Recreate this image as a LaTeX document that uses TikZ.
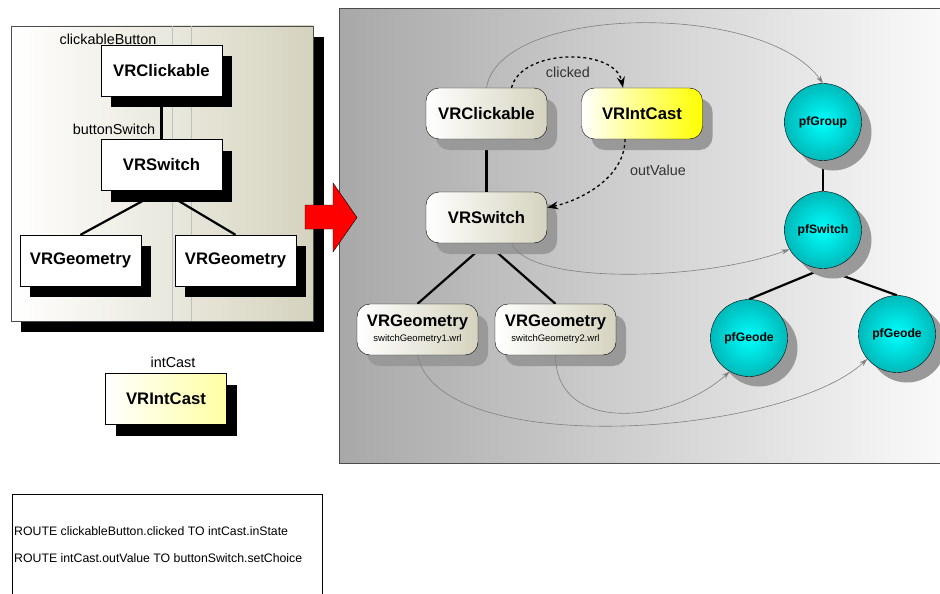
\documentclass[tikz,border=0pt]{standalone}
\usepackage{fontspec}
\setmainfont{Liberation Sans}
\usepackage{tikz}
\usetikzlibrary{shadows,arrows.meta,positioning}
\pgfdeclarelayer{panel}
\pgfdeclarelayer{links}
\pgfsetlayers{panel,links,main}
\definecolor{khaki}{RGB}{213,211,190}
\definecolor{paleyellow}{RGB}{255,255,165}
\definecolor{cyanhi}{RGB}{0,255,255}
\definecolor{cyanlo}{RGB}{0,185,185}
\definecolor{panelgrey}{RGB}{168,168,168}
\definecolor{panelwhite}{RGB}{250,250,250}

\begin{document}
\begin{tikzpicture}[x=1pt, y=-1pt,
  oldbox/.style={draw, thin, fill=white, minimum width=121pt, minimum height=51pt, inner sep=0pt,
    font=\fontsize{16.7}{18}\selectfont\bfseries,
    drop shadow={shadow xshift=10pt, shadow yshift=-11pt, fill=black, opacity=1}},
  newbox/.style={draw, thin, rounded corners=13pt, left color=white, right color=khaki,
    minimum width=121pt, minimum height=51pt, inner sep=0pt, align=center,
    font=\fontsize{16.7}{18}\selectfont\bfseries,
    drop shadow={shadow xshift=10pt, shadow yshift=-11pt, fill=black!40, opacity=1}},
  pfball/.style={draw, thin, circle, minimum size=77pt, inner sep=0pt, shading=radial,
    inner color=cyanhi, outer color=cyanlo, font=\fontsize{12.2}{14}\selectfont\bfseries,
    drop shadow={shadow xshift=10pt, shadow yshift=-10pt, fill=black!40, opacity=1}},
  lbl/.style={font=\fontsize{14.4}{16}\selectfont, inner sep=0pt},
  tree/.style={line width=2.2pt},
  flow/.style={dashed, line width=1.3pt, -{Stealth[length=11pt,width=8pt]}},
  link/.style={draw=black!50, line width=0.6pt, -{Stealth[length=8pt,width=5pt]}}]

\useasboundingbox (0,0) rectangle (940,594);

% panels
\begin{pgfonlayer}{panel}
\fill[black] (21,37) rectangle (324,332);
\draw[black!70, thin, left color=white, right color=khaki] (11,26) rectangle (313,321);
\draw[black!25, very thin] (172,26) -- (172,321) (191,26) -- (191,321);
\draw[black!70, line width=1pt, left color=panelgrey, right color=panelwhite] (339,9) rectangle (946,463);
\end{pgfonlayer}

% scene graph before
\node[oldbox] (1) at (161.5,70.5) {VRClickable};
\node[oldbox] (2) at (161.5,165) {VRSwitch};
\node[oldbox] (3) at (80.5,260.5) {VRGeometry};
\node[oldbox] (4) at (235.5,260.5) {VRGeometry};
\node[oldbox, left color=white, right color=paleyellow] (5) at (166,399) {VRIntCast};
\node[lbl] (15) at (108,39) {clickableButton};
\node[lbl] (16) at (114,129) {buttonSwitch};
\node[lbl] (17) at (173,362) {intCast};

% red arrow
\draw[fill=red, thin] (305,205) -- (333,205) -- (333,183) -- (357,217.5) -- (333,252) -- (333,229) -- (305,229) -- cycle;

% scene graph after
\node[newbox] (6) at (486.5,113.5) {VRClickable};
\node[newbox, right color=yellow] (7) at (642,113.5) {VRIntCast};
\node[newbox] (8) at (486.5,217.5) {VRSwitch};
\node[newbox] (9) at (417.5,329.5) {VRGeometry\\[-3pt]{\fontsize{9.5}{10}\selectfont\mdseries switchGeometry1.wrl}};
\node[newbox] (10) at (555.5,329.5) {VRGeometry\\[-3pt]{\fontsize{9.5}{10}\selectfont\mdseries switchGeometry2.wrl}};
\node[pfball] (11) at (823,122) {pfGroup};
\node[pfball] (12) at (823,230) {pfSwitch};
\node[pfball] (13) at (749,338) {pfGeode};
\node[pfball] (14) at (897,334) {pfGeode};

\begin{pgfonlayer}{links}
\draw[tree] (1.south) -- (2.north);
\draw[tree] (2.south) -- (3.north);
\draw[tree] (2.south) -- (4.north);
\draw[tree] (6.south) -- (8.north);
\draw[tree] (8.south) -- (9.north);
\draw[tree] (8.south) -- (10.north);
\draw[tree] (11.south) -- (12.north);
\draw[tree] (12.south) -- (13.north);
\draw[tree] (12.south) -- (14.north);
\end{pgfonlayer}

% routes
\draw[flow] ([xshift=25pt]6.north) .. controls +(10,-40) and +(-8,-40) .. ([xshift=-19pt]7.north);
\draw[flow] ([xshift=-17pt]7.south) .. controls +(0,40) and +(30,-6) .. ([yshift=10pt]8.east);
\node[lbl, text=black!80] (18) at (568,72) {clicked};
\node[lbl, text=black!80] (19) at (658,170) {outValue};

% node mapping
\draw[link] (6.north) .. controls +(13,-83) and +(-60,-83) .. (11.north);
\draw[link] ([xshift=25pt]8.south) .. controls +(18,42) and +(-88,32) .. (12.210);
\draw[link] (9.south) .. controls +(22,105) and +(-84,78) .. (14.220);
\draw[link] (10.south) .. controls +(0,80) and +(-57,52) .. (13.240);

% route text
\draw[thin] (12,494) rectangle (322,600);
\node[anchor=west, inner sep=0pt, font=\fontsize{12.3}{14}\selectfont] (20) at (14,531) {ROUTE clickableButton.clicked TO intCast.inState};
\node[anchor=west, inner sep=0pt, font=\fontsize{12.3}{14}\selectfont] (21) at (14,558) {ROUTE intCast.outValue TO buttonSwitch.setChoice};
\end{tikzpicture}
\end{document}
